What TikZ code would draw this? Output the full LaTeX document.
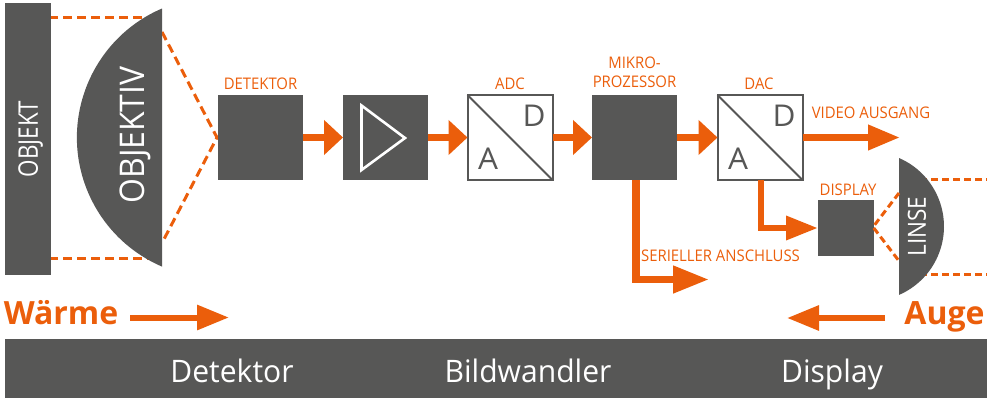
\documentclass[tikz,border=0pt]{standalone}
\usepackage{fontspec}
\setmainfont{Open Sans}
\usetikzlibrary{arrows.meta}
\definecolor{dk}{HTML}{575756}
\definecolor{og}{HTML}{EB5E0B}
\newfontfamily\lblf[FakeStretch=0.93]{Open Sans}
\newfontfamily\objf[FakeStretch=0.83]{Open Sans}
\newfontfamily\tivf[FakeStretch=0.94]{Open Sans}
\newfontfamily\linf[FakeStretch=0.90]{Open Sans}
\newfontfamily\barf[FakeStretch=0.97]{Open Sans}
\newfontfamily\ltrf[FakeStretch=1.05]{Open Sans}
\newfontfamily\boldf[FakeStretch=1.0]{Open Sans Bold}
\begin{document}
\begin{tikzpicture}[x=1pt,y=-1pt,
  blk/.style={fill=dk,draw=none,minimum width=85pt,minimum height=85pt,inner sep=0pt,outer sep=0pt},
  conv/.style={fill=white,draw=dk,line width=2pt,minimum width=85pt,minimum height=85pt,inner sep=0pt,outer sep=0pt},
  lbl/.style={text=og,inner sep=0pt,font=\lblf\fontsize{16}{19}\selectfont,align=center,anchor=base},
  wlbl/.style={text=white,inner sep=0pt},
  ltr/.style={text=dk,inner sep=0pt,font=\ltrf\fontsize{30}{34}\selectfont},
  bar/.style={text=white,inner sep=0pt,font=\barf\fontsize{31}{34}\selectfont,anchor=base},
  big/.style={text=og,inner sep=0pt,font=\boldf\fontsize{32}{35}\selectfont,anchor=base},
  flow/.style={draw=og,line width=7pt,-{Triangle[length=19pt,width=34pt]}},
  outflow/.style n args={3}{draw=og,line width=#3,line join=miter,-{Triangle[length=#1,width=#2]}},
  ray/.style={draw=og,line width=3pt,dash pattern=on 9pt off 5pt},
  rayb/.style={draw=og,line width=3pt,dash pattern=on 7pt off 4pt}]
\useasboundingbox (0,0) rectangle (992,399);
% rays
\coordinate (o1) at (49,17.3); \coordinate (o2) at (150,17.3);
\coordinate (o3) at (49,258.3); \coordinate (o4) at (150,258.3);
\coordinate (fo1) at (162,32); \coordinate (fo) at (217,137.5); \coordinate (fo2) at (162,243);
\draw[ray] (o1) -- (o2);
\draw[ray] (o3) -- (o4);
\draw[ray] (fo1) -- (fo) -- (fo2);
\coordinate (l1) at (920,179); \coordinate (l2) at (987,179);
\coordinate (l3) at (920,274); \coordinate (l4) at (987,274);
\draw[rayb] (l1) -- (l2);
\draw[rayb] (l3) -- (l4);
\coordinate (fl1) at (899,193); \coordinate (fl) at (873,227); \coordinate (fl2) at (899,261);
% shapes
\node[fill=dk,minimum width=46pt,minimum height=272pt,inner sep=0pt] (objekt) at (28,139) {};
\node[wlbl,rotate=90,font=\objf\fontsize{27}{30}\selectfont] (objektt) at (30.5,139) {OBJEKT};
\fill[dk] (162,8.5) arc[start angle=246.8,end angle=113.2,radius=140.4] -- cycle;
\node[wlbl,rotate=90,font=\tivf\fontsize{34}{38}\selectfont] (objektiv) at (135,135) {OBJEKTIV};
\fill[dk] (899,158) arc[start angle=-66.6,end angle=66.6,radius=74.6] -- cycle;
\node[wlbl,rotate=90,font=\linf\fontsize{25}{28}\selectfont] (linse) at (917,226.5) {LINSE};
\node[blk] (det) at (260.5,137.5) {};
\node[blk] (amp) at (385.5,137.5) {};
\draw[white,line width=2.6pt,miter limit=10] (361.5,105.5) -- (405,138) -- (361.5,170) -- cycle;
\node[conv] (adc) at (510,137.5) {};
\node[blk] (mp) at (634.5,137.5) {};
\node[conv] (dac) at (760,137.5) {};
\node[blk,minimum width=56pt,minimum height=56pt] (disp) at (846,228) {};
\draw[dk,line width=2pt] (adc.north west) -- (adc.south east);
\draw[dk,line width=2pt] (dac.north west) -- (dac.south east);
\node[ltr] (adcd) at (534,116) {D};
\node[ltr] (adca) at (488,159) {A};
\node[ltr] (dacd) at (784,116) {D};
\node[ltr] (daca) at (738,159) {A};
\draw[rayb] (fl1) -- (fl) -- (fl2);
% labels
\node[lbl] (tdet) at (260.5,89.5) {DETEKTOR};
\node[lbl] (tadc) at (510,89) {ADC};
\node[lbl,anchor=center] (tmp) at (634.5,72.5) {MIKRO-\\PROZESSOR};
\node[lbl] (tdac) at (759,89) {DAC};
\node[lbl] (tvid) at (871,118) {VIDEO AUSGANG};
\node[lbl] (tdisp) at (848,195) {DISPLAY};
\node[lbl] (tser) at (720.5,261) {SERIELLER ANSCHLUSS};
% arrows
\draw[flow] (det.east) -- (amp.west);
\draw[flow] (amp.east) -- (adc.west);
\draw[flow] (adc.east) -- (mp.west);
\draw[flow] (mp.east) -- (dac.west);
\coordinate (vout) at (900,137.5);
\draw[outflow={32pt}{24pt}{7pt}] (dac.east) -- (vout);
\coordinate (serb) at (636,180); \coordinate (serc) at (636,279.5); \coordinate (sere) at (709,279.5);
\draw[outflow={36pt}{26pt}{7.5pt}] (serb) -- (serc) -- (sere);
\coordinate (dacb) at (761,180); \coordinate (dacc) at (761,228);
\draw[outflow={32pt}{23pt}{6.5pt}] (dacb) -- (dacc) -- (disp.west);
% bottom
\node[big] (waerme) at (61,324.5) {Wärme};
\coordinate (w1) at (130,317.5); \coordinate (w2) at (229,317.5);
\draw[outflow={32pt}{24pt}{6pt}] (w1) -- (w2);
\node[big] (auge) at (944.5,324.5) {Auge};
\coordinate (a1) at (885,318); \coordinate (a2) at (787,318);
\draw[outflow={32pt}{24pt}{6pt}] (a1) -- (a2);
\node[fill=dk,minimum width=982pt,minimum height=59pt,inner sep=0pt] (strip) at (496,368.5) {};
\node[bar] (b1) at (232,382) {Detektor};
\node[bar] (b2) at (528,382) {Bildwandler};
\node[bar] (b3) at (832,382) {Display};
\end{tikzpicture}
\end{document}
